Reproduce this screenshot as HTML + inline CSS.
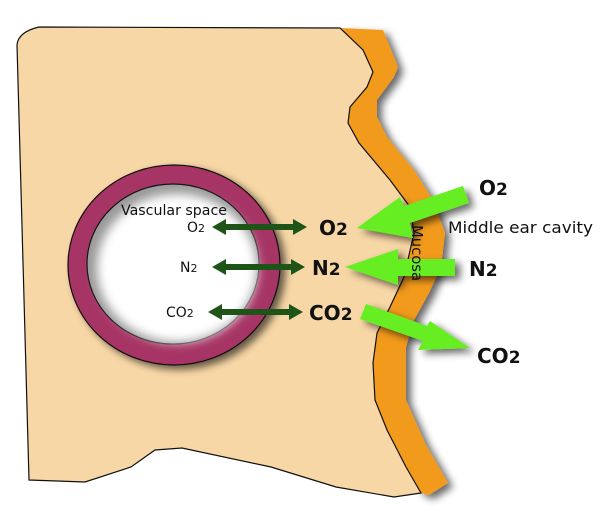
<!DOCTYPE html>
<html><head><meta charset="utf-8"><style>
html,body{margin:0;padding:0;background:#fff;width:600px;height:517px;overflow:hidden}
svg{display:block}
text{font-family:"DejaVu Sans","Liberation Sans",sans-serif}
</style></head><body>
<svg width="600" height="517" viewBox="0 0 600 517" xmlns="http://www.w3.org/2000/svg">
<defs>
<filter id="sh" x="-20%" y="-20%" width="140%" height="140%">
<feGaussianBlur in="SourceAlpha" stdDeviation="4"/><feOffset dx="5" dy="4"/>
<feComponentTransfer><feFuncA type="linear" slope="0.6"/></feComponentTransfer>
<feMerge><feMergeNode/><feMergeNode in="SourceGraphic"/></feMerge></filter>
<filter id="ish"><feGaussianBlur stdDeviation="5"/></filter>
</defs>
<!-- mucosa -->
<path filter="url(#sh)" fill="#f29a1e" d="M340,28 L383,30 L398,67 L394,77 L377,100 L377,117 L387,137 L414,170 L433,200 L445,233 L441,267 L429,293 L414,320 L406,347 L406,400 L425,443 L448,483 L429,495 L421,493 L406,467 L387,430 L375,400 L373,363 L377,333 L390,307 L404,277 L414,233 L410,207 L390,180 L359,143 L348,123 L350,107 L367,87 L373,72 L363,50 Z"/>
<!-- tissue -->
<path fill="#f8d7a6" stroke="#111" stroke-width="1.2" d="M39,27 L340,28 L363,50 L373,72 L367,87 L350,107 L348,123 L359,143 L390,180 L410,207 L414,233 L404,277 L390,307 L377,333 L373,363 L375,400 L387,430 L406,467 L421,493 L394,497 L336,487 L271,467 L182,448 L155,450 L131,467 L85,482 L29,480 L17,45 Q18,32 39,27 Z"/>
<!-- vessel -->
<ellipse cx="174" cy="265" rx="106" ry="100" fill="#a63465" stroke="#111" stroke-width="1.2" filter="url(#sh)"/>
<ellipse cx="173" cy="264" rx="86" ry="80" fill="#999" stroke="#111" stroke-width="1.2"/>
<ellipse cx="177" cy="268" rx="80" ry="74" fill="#fff" filter="url(#ish)"/>
<!-- dark arrows -->
<g fill="#1f5418">
<polygon points="212,227 226,219 226,224 293,224 293,219 307,227 293,235 293,230 226,230 226,235"/>
<polygon points="212,267 226,259 226,264 291,264 291,259 305,267 291,275 291,270 226,270 226,275"/>
<polygon points="208,312 222,304 222,309 289,309 289,304 303,312 289,320 289,315 222,315 222,320"/>
</g>
<!-- light green arrows -->
<g fill="#66ee22" filter="url(#sh)">
<polygon points="463,186 469,203 410,223 413,238 357,228 400,197 404,206"/>
<polygon points="455,259 455,276 398,276 398,285 345,267 398,249 398,259"/>
<polygon points="366,304 360,319 423,341 418,350 470,348 430,321 427,326"/>
</g>
<text x="121" y="215" font-size="14" fill="#111" textLength="106" lengthAdjust="spacingAndGlyphs">Vascular space</text>
<text x="187" y="232" font-size="14" fill="#111">O<tspan font-size="11">2</tspan></text>
<text x="180" y="272" font-size="14" fill="#111">N<tspan font-size="11">2</tspan></text>
<text x="166" y="317" font-size="14" fill="#111">CO<tspan font-size="11">2</tspan></text>
<g font-weight="bold" font-size="20" fill="#111">
<text x="319" y="235">O<tspan font-size="17">2</tspan></text>
<text x="312" y="275">N<tspan font-size="17">2</tspan></text>
<text x="309" y="320">CO<tspan font-size="17">2</tspan></text>
<text x="479" y="195">O<tspan font-size="17">2</tspan></text>
<text x="469" y="276">N<tspan font-size="17">2</tspan></text>
<text x="477" y="363">CO<tspan font-size="17">2</tspan></text>
</g>
<text x="448" y="233" font-size="16" fill="#111" textLength="145" lengthAdjust="spacingAndGlyphs">Middle ear cavity</text>
<text transform="translate(412,225) rotate(90)" font-size="15" fill="#111" textLength="56" lengthAdjust="spacingAndGlyphs">Mucosa</text>
</svg>
</body></html>
